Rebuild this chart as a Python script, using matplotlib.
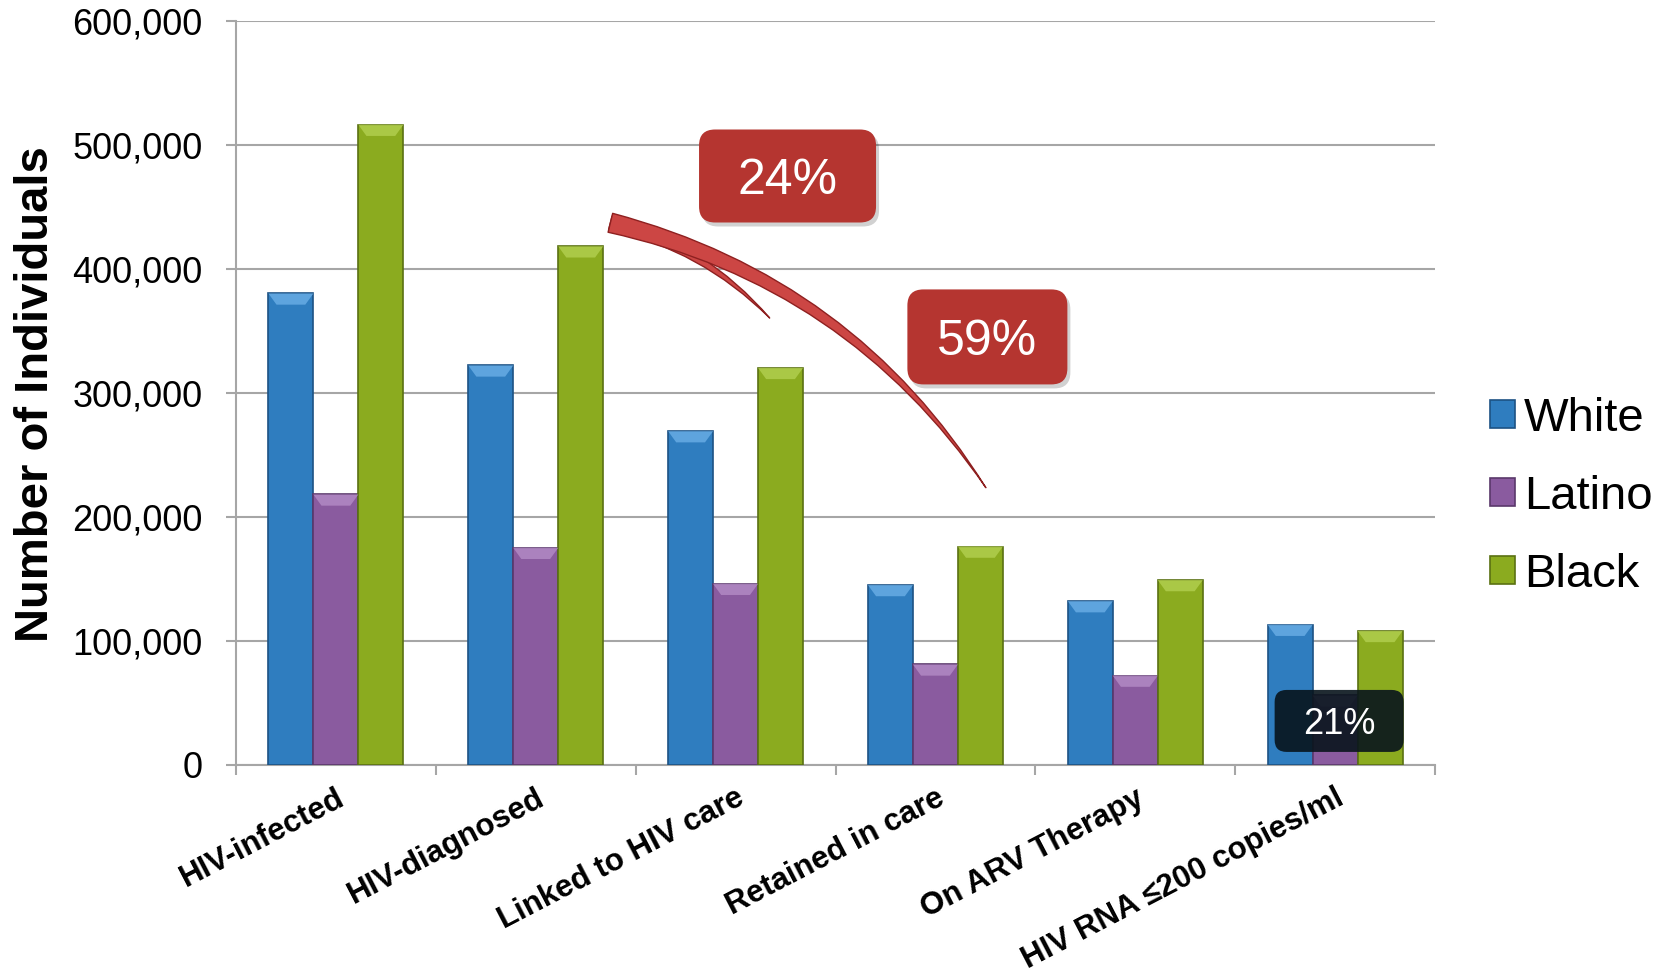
import numpy as np
import matplotlib
matplotlib.use('Agg')
import matplotlib.pyplot as plt
import matplotlib.transforms as mtransforms
from matplotlib.patches import FancyBboxPatch, FancyArrowPatch, Polygon
from matplotlib.ticker import FuncFormatter, FixedLocator

plt.rcParams['font.family'] = ['Liberation Sans', 'DejaVu Sans']

stages = ['HIV-infected', 'HIV-diagnosed', 'Linked to HIV care',
          'Retained in care', 'On ARV Therapy', 'HIV RNA \u2264200 copies/ml']
groups = ['White', 'Latino', 'Black']
white = [380000, 322000, 269000, 145000, 132000, 113000]
latino = [218000, 175000, 146000, 81000, 72000, 56000]
black = [516000, 418000, 320000, 176000, 149000, 108000]

face = ['#2f7dbf', '#8a5b9f', '#8bab1f']
edge = ['#1c5284', '#5a386b', '#5a7112']
cap = ['#6aaee6', '#b48cc6', '#b3d050']

fig = plt.figure(figsize=(16.71, 9.73), dpi=100)
ax = fig.add_axes([0.1412, 0.2138, 0.7176, 0.7651])

x = np.arange(len(stages))
w = 0.225
for i, vals in enumerate([white, latino, black]):
    bars = ax.bar(x + (i - 1) * w, vals, w, color=face[i], edgecolor=edge[i],
                  linewidth=1.2, label=groups[i], zorder=3)
    # bevelled top on each bar
    for b in bars:
        x0, x1 = b.get_x(), b.get_x() + b.get_width()
        top = b.get_height()
        d = b.get_width() * 0.18
        ch = 9000
        ax.add_patch(Polygon([(x0, top), (x1, top), (x1 - d, top - ch), (x0 + d, top - ch)],
                             closed=True, facecolor=cap[i], edgecolor='none', alpha=0.8, zorder=4))

ax.set_xlim(-0.5, len(stages) - 0.5)
ax.set_ylim(0, 600000)
ax.set_yticks(np.arange(0, 600001, 100000))
ax.yaxis.set_major_formatter(FuncFormatter(lambda v, p: f'{int(v):,}'))
ax.set_axisbelow(True)
ax.yaxis.grid(True, color='#a6a6a6', linewidth=1.5, zorder=0)
for s in ['top', 'right']:
    ax.spines[s].set_visible(False)
for s in ['left', 'bottom']:
    ax.spines[s].set_color('#a6a6a6')
    ax.spines[s].set_linewidth(1.5)

ax.tick_params(axis='y', length=7, width=1.5, color='#a6a6a6', pad=17, labelsize=26)
ax.set_xticks(x)
ax.set_xticklabels(stages, fontsize=22.5, fontweight='bold')
ax.xaxis.set_minor_locator(FixedLocator(np.arange(-0.5, len(stages), 1)))
ax.tick_params(axis='x', which='major', length=0, pad=13)
ax.tick_params(axis='x', which='minor', length=7, width=1.5, color='#a6a6a6')
for lbl in ax.get_xticklabels():
    lbl.set_rotation(27.5)
    lbl.set_ha('right')
    lbl.set_va('top')
    lbl.set_rotation_mode('anchor')

fig.text(36 / 1671, 1 - 394.5 / 973, 'Number of Individuals', rotation=90,
         ha='center', va='center', fontsize=34, fontweight='bold')

ax.legend(loc='center left', bbox_to_anchor=(1490 / 1671, 1 - 497 / 973),
          bbox_transform=fig.transFigure, frameon=False, fontsize=34,
          handlelength=0.52, handleheight=0.52, handletextpad=0.2,
          labelspacing=0.72, borderpad=0, borderaxespad=0)

# curved arrows from the diagnosed bar down towards retained in care
arr_long = FancyArrowPatch((1.36, 437500), (3.26, 221600),
                           connectionstyle='arc3,rad=-0.2',
                           arrowstyle='wedge,tail_width=0.7,shrink_factor=0.5',
                           mutation_scale=20, facecolor='#cc4644', edgecolor='#8e2020',
                           linewidth=1, zorder=6)
arr_short = FancyArrowPatch((1.36, 437500), (2.18, 358600),
                            connectionstyle='arc3,rad=-0.15',
                            arrowstyle='wedge,tail_width=0.5,shrink_factor=0.5',
                            mutation_scale=20, facecolor='#cc4644', edgecolor='#8e2020',
                            linewidth=1, zorder=6)
ax.add_patch(arr_short)
ax.add_patch(arr_long)


def label_box(xd, yd, wpx, hpx, text, fc, size, rnd, alpha=1.0, shadow=True):
    trans = fig.dpi_scale_trans + mtransforms.ScaledTranslation(xd, yd, ax.transData)
    wi, hi = wpx / 100, hpx / 100
    if shadow:
        ax.add_patch(FancyBboxPatch((-wi / 2 + 0.03, -hi / 2 - 0.04), wi, hi,
                                    boxstyle=f'round,pad=0,rounding_size={rnd}',
                                    transform=trans, facecolor='#000000', alpha=0.18,
                                    edgecolor='none', zorder=7, clip_on=False))
    ax.add_patch(FancyBboxPatch((-wi / 2, -hi / 2), wi, hi,
                                boxstyle=f'round,pad=0,rounding_size={rnd}',
                                transform=trans, facecolor=fc, alpha=alpha,
                                edgecolor='none', zorder=8, clip_on=False))
    ax.text(xd, yd, text, ha='center', va='center_baseline', color='white',
            fontsize=size, zorder=9)


label_box(2.26, 474700, 177, 93, '24%', '#b53530', 36, 0.16)
label_box(3.26, 345000, 160, 95, '59%', '#b53530', 36, 0.16)
label_box(5.02, 35500, 129, 62, '21%', '#08141c', 26, 0.12, alpha=0.9, shadow=False)

fig.savefig('out.png', dpi=100)
